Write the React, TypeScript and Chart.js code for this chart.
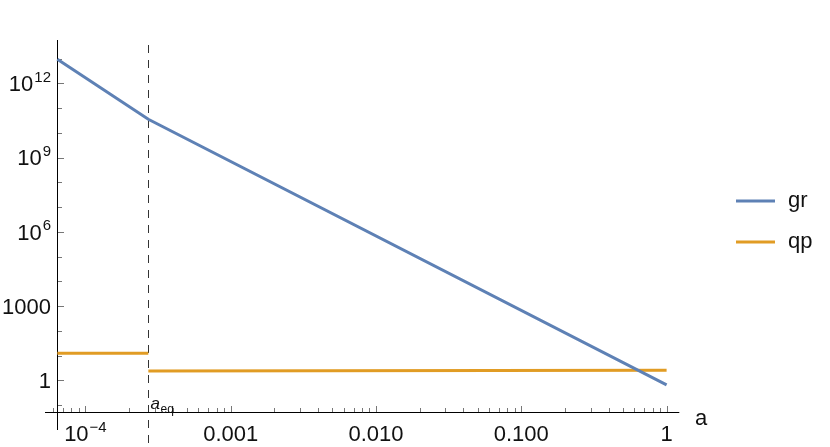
import React, { useEffect, useRef } from "react";
import { Chart, registerables } from "chart.js";

Chart.register(...registerables);

// ---- data ----
const grA = [6.41e-5, 2.71e-4, 1];
const grValues = [9.3e12, 3.5e10, 0.65];
const qpEarlyA = [6.41e-5, 2.71e-4];
const qpEarlyValues = [12.3, 12.3];
const qpLateA = [2.71e-4, 1];
const qpLateValues = [2.38, 2.54];
const aEq = 2.71e-4;
const axisOriginX = 6.41e-5;
const axisOriginY = 0.0524;

const xMajorTicks = [1e-4, 1e-3, 1e-2, 1e-1, 1];
const xTickBase = ["10", "0.001", "0.010", "0.100", "1"];
const xTickExp = ["\u22124", "", "", "", ""];
const yMajorTicks = [1, 1e3, 1e6, 1e9, 1e12];
const yTickBase = ["1", "1000", "10", "10", "10"];
const yTickExp = ["", "", "6", "9", "12"];
const seriesLabels = ["gr", "qp"];
const seriesColors = ["#5E81B5", "#E19C24"];

const FONT = '"Liberation Sans", Arial, sans-serif';
const FS = 22;

function drawPowLabel(ctx: CanvasRenderingContext2D, base: string, exp: string, x: number, y: number, align: "right" | "center", baselineMode: "middle" | "bottom") {
  ctx.font = `${FS}px ${FONT}`;
  const wb = ctx.measureText(base).width;
  ctx.font = `${Math.round(FS * 0.68)}px ${FONT}`;
  const we = exp ? ctx.measureText(exp).width + 1 : 0;
  const total = wb + we;
  const start = align === "right" ? x - total : x - total / 2;
  ctx.textAlign = "left";
  ctx.textBaseline = "alphabetic";
  const baseY = baselineMode === "middle" ? y + FS * 0.36 : y;
  ctx.font = `${FS}px ${FONT}`;
  ctx.fillText(base, start, baseY);
  if (exp) {
    ctx.font = `${Math.round(FS * 0.68)}px ${FONT}`;
    ctx.fillText(exp, start + wb + 1, baseY - FS * 0.42);
  }
}

const decoPlugin = {
  id: "deco",
  beforeDatasetsDraw(chart: any) {
    const { ctx, scales } = chart;
    const xs = scales.x;
    const ys = scales.y;
    const area = chart.chartArea;
    const ax = xs.getPixelForValue(axisOriginX);
    const ay = ys.getPixelForValue(axisOriginY);
    ctx.save();
    // dashed a_eq line
    const xe = Math.round(xs.getPixelForValue(aEq)) + 0.5;
    ctx.strokeStyle = "#333";
    ctx.lineWidth = 1;
    ctx.setLineDash([8, 7]);
    ctx.beginPath();
    ctx.moveTo(xe, area.top + 5);
    ctx.lineTo(xe, chart.height);
    ctx.stroke();
    ctx.setLineDash([]);

    // axes
    ctx.strokeStyle = "#000";
    ctx.lineWidth = 1;
    ctx.beginPath();
    ctx.moveTo(area.left, Math.round(ay) + 0.5);
    ctx.lineTo(area.right, Math.round(ay) + 0.5);
    ctx.moveTo(Math.round(ax) + 0.5, area.top);
    ctx.lineTo(Math.round(ax) + 0.5, area.bottom);
    ctx.stroke();

    // x ticks
    ctx.strokeStyle = "#777";
    ctx.beginPath();
    for (let e = -5; e <= 0; e++) {
      for (let k = 1; k <= 9; k++) {
        const v = k * Math.pow(10, e);
        if (v < xs.min || v > xs.max) continue;
        const px = Math.round(xs.getPixelForValue(v)) + 0.5;
        const len = k === 1 ? 6 : 4;
        ctx.moveTo(px, Math.round(ay));
        ctx.lineTo(px, Math.round(ay) - len);
      }
    }
    // y ticks
    for (let e = -1; e <= 13; e++) {
      const v = Math.pow(10, e);
      if (v < ys.min || v > ys.max) continue;
      const py = Math.round(ys.getPixelForValue(v)) + 0.5;
      const len = e % 3 === 0 ? 6 : 4;
      ctx.moveTo(Math.round(ax) + 1, py);
      ctx.lineTo(Math.round(ax) + 1 + len, py);
    }
    ctx.stroke();

    // labels
    ctx.fillStyle = "#111";
    xMajorTicks.forEach((v, i) => {
      drawPowLabel(ctx, xTickBase[i], xTickExp[i], xs.getPixelForValue(v), 441, "center", "bottom");
    });
    yMajorTicks.forEach((v, i) => {
      drawPowLabel(ctx, yTickBase[i], yTickExp[i], 51, ys.getPixelForValue(v), "right", "middle");
    });

    // a_eq label
    ctx.font = `italic ${17}px ${FONT}`;
    ctx.textAlign = "left";
    ctx.textBaseline = "alphabetic";
    ctx.fillText("a", xe + 2, 409);
    const wa = ctx.measureText("a").width;
    ctx.font = `${12}px ${FONT}`;
    ctx.fillText("eq", xe + 2 + wa + 0.5, 413);

    // axis label
    ctx.font = `${FS}px ${FONT}`;
    ctx.fillText("a", 695, 425);

    // legend
    seriesLabels.forEach((lab, i) => {
      const ly = 201 + i * 41;
      ctx.strokeStyle = seriesColors[i];
      ctx.lineWidth = 3;
      ctx.beginPath();
      ctx.moveTo(736, ly);
      ctx.lineTo(775, ly);
      ctx.stroke();
      ctx.fillStyle = "#111";
      ctx.font = `${FS}px ${FONT}`;
      ctx.textBaseline = "middle";
      ctx.fillText(lab, 788, ly);
    });
    ctx.restore();
  },
};

export default function App() {
  const ref = useRef<HTMLCanvasElement>(null);
  useEffect(() => {
    document.body.style.margin = "0";
    const canvas = ref.current;
    if (!canvas) return;
    const grData = grA.map((a, i) => ({ x: a, y: grValues[i] }));
    const qpData: any[] = [
      ...qpEarlyA.map((a, i) => ({ x: a, y: qpEarlyValues[i] })),
      { x: aEq, y: null },
      ...qpLateA.map((a, i) => ({ x: a, y: qpLateValues[i] })),
    ];
    const chart = new Chart(canvas, {
      type: "line",
      data: {
        datasets: [
          { label: seriesLabels[0], data: grData, borderColor: seriesColors[0], borderWidth: 3, pointRadius: 0, fill: false, tension: 0 },
          { label: seriesLabels[1], data: qpData, borderColor: seriesColors[1], borderWidth: 3, pointRadius: 0, fill: false, tension: 0, spanGaps: false },
        ],
      },
      options: {
        responsive: false,
        animation: false,
        events: [],
        layout: { padding: { left: 45, right: 830 - 679.3, top: 40, bottom: 447 - 430 } },
        plugins: { legend: { display: false }, tooltip: { enabled: false } },
        scales: {
          x: { type: "logarithmic", min: 5.27e-5, max: 1.223, bounds: "data", display: false },
          y: { type: "logarithmic", min: 0.00982, max: 5.61e13, bounds: "data", display: false },
        },
      },
      plugins: [decoPlugin],
    });
    return () => chart.destroy();
  }, []);
  return (
    <div style={{ width: 830, height: 447, background: "#fff" }}>
      <canvas ref={ref} width={830} height={447} />
    </div>
  );
}
